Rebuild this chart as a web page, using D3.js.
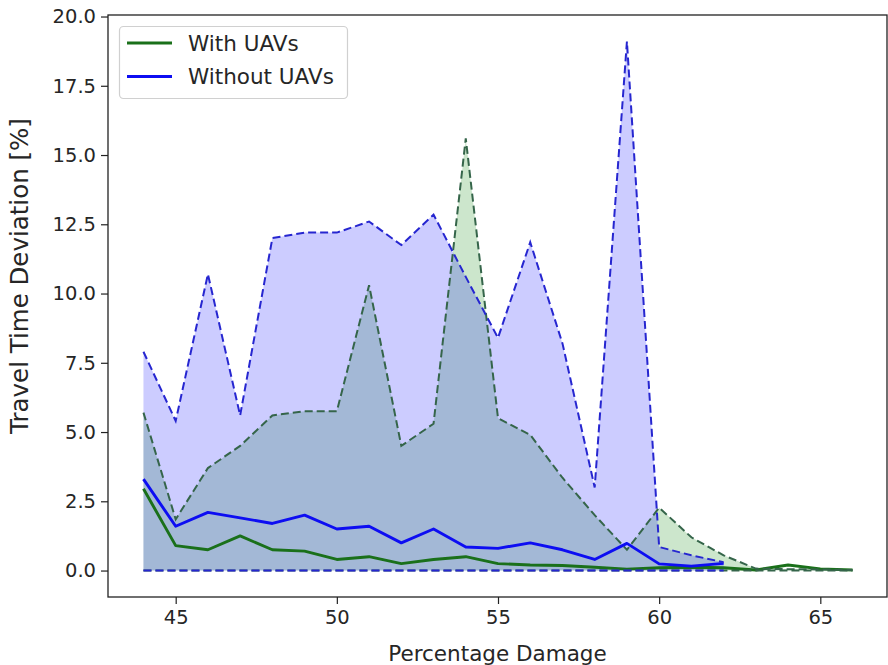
<!DOCTYPE html>
<html>
<head>
<meta charset="utf-8">
<script src="https://cdn.jsdelivr.net/npm/d3@7"></script>
<style>
  html, body { margin: 0; padding: 0; background: #fff; }
  svg { display: block; font-family: "DejaVu Sans", sans-serif; }
</style>
</head>
<body>
<svg id="chart" width="888" height="665"></svg>
<script>
// ---- data ----
const xWithout = [44,45,46,47,48,49,50,51,52,53,54,55,56,57,58,59,60,61,62];
const withoutMean  = [3.3,1.6,2.1,1.9,1.7,2.0,1.5,1.6,1.0,1.5,0.85,0.8,1.0,0.75,0.4,0.98,0.24,0.16,0.26];
const withoutUpper = [7.9,5.4,10.7,5.6,12.0,12.2,12.2,12.6,11.75,12.85,10.6,8.4,11.85,8.2,3.0,19.1,0.85,0.55,0.3];
const withoutLower = [0,0,0,0,0,0,0,0,0,0,0,0,0,0,0,0,0,0,0];

const xWith = [44,45,46,47,48,49,50,51,52,53,54,55,56,57,58,59,60,61,62,63,64,65,66];
const withMean  = [2.95,0.9,0.75,1.25,0.75,0.7,0.4,0.5,0.25,0.4,0.5,0.25,0.2,0.18,0.12,0.05,0.1,0.12,0.1,0.02,0.2,0.06,0.02];
const withUpper = [5.7,1.85,3.7,4.5,5.6,5.75,5.75,10.3,4.5,5.3,15.6,5.5,4.9,3.35,2.0,0.75,2.27,1.2,0.55,0.07,0.05,0.04,0.02];
const withLower = [0,0,0,0,0,0,0,0,0,0,0,0,0,0,0,0,0,0,0,0,0,0,0];

const xTicks = [45,50,55,60,65];
const yTicks = [0,2.5,5,7.5,10,12.5,15,17.5,20];
const seriesNames = ["With UAVs","Without UAVs"];
const xLabel = "Percentage Damage";
const yLabel = "Travel Time Deviation [%]";

// ---- layout ----
const svg = d3.select("#chart");
const L = 108, R = 887, T = 15, B = 597;
const x = d3.scaleLinear().domain([42.9, 67.1]).range([L, R + 1]);
const y = d3.scaleLinear().domain([-0.955, 20.055]).range([B, T]);

svg.append("clipPath").attr("id","clip")
  .append("rect").attr("x",L).attr("y",T).attr("width",R-L).attr("height",B-T);
const plot = svg.append("g").attr("clip-path","url(#clip)");
const fillLayer = plot.append("g");
const lineLayer = plot.append("g");

function drawSeries(xs, mean, up, lo, c) {
  const pts = xs.map((d,i)=>({x:d, m:mean[i], u:up[i], l:lo[i]}));
  fillLayer.append("path").datum(pts)
    .attr("d", d3.area().x(d=>x(d.x)).y0(d=>y(d.l)).y1(d=>y(d.u)))
    .attr("fill", c.fill).attr("fill-opacity", 0.2).attr("stroke","none");
  lineLayer.append("path").datum(pts)
    .attr("d", d3.line().x(d=>x(d.x)).y(d=>y(d.m)))
    .attr("fill","none").attr("stroke",c.solid).attr("stroke-width",2.9)
    .attr("stroke-linejoin","round");
  ["u","l"].forEach(k=>{
    lineLayer.append("path").datum(pts)
      .attr("d", d3.line().x(d=>x(d.x)).y(d=>y(d[k])))
      .attr("fill","none").attr("stroke",c.dash).attr("stroke-width",2)
      .attr("stroke-dasharray","8,4");
  });
}

drawSeries(xWith, withMean, withUpper, withLower, {fill:"#008000", solid:"#1a701a", dash:"#35654a"});
drawSeries(xWithout, withoutMean, withoutUpper, withoutLower, {fill:"#0000ff", solid:"#0d0df2", dash:"#2626d0"});

// ---- axes ----
const xAxis = d3.axisBottom(x).tickValues(xTicks).tickFormat(d3.format("d")).tickSize(7).tickPadding(6);
const yAxis = d3.axisLeft(y).tickValues(yTicks).tickFormat(d3.format(".1f")).tickSize(7).tickPadding(5);

const gx = svg.append("g").attr("transform",`translate(0,${B})`).call(xAxis);
const gy = svg.append("g").attr("transform",`translate(${L},0)`).call(yAxis);
[gx, gy].forEach(g=>{
  g.select(".domain").remove();
  g.selectAll(".tick line").attr("stroke","#222").attr("stroke-width",1.2);
  g.selectAll(".tick text").attr("fill","#262626").style("font-size","19.5px")
    .style("font-family","'DejaVu Sans', sans-serif");
});

// frame
svg.append("rect").attr("x",L).attr("y",T).attr("width",R-L).attr("height",B-T)
  .attr("fill","none").attr("stroke","#222").attr("stroke-width",1.3);

// labels
svg.append("text").attr("x",(L+R)/2).attr("y",661)
  .attr("text-anchor","middle").attr("fill","#262626").style("font-size","21.5px")
  .text(xLabel);
svg.append("text").attr("transform",`translate(28,276) rotate(-90)`)
  .attr("text-anchor","middle").attr("fill","#262626").style("font-size","24.5px")
  .text(yLabel);

// legend
const lg = svg.append("g");
lg.append("rect").attr("x",119.5).attr("y",26.5).attr("width",228).attr("height",72).attr("rx",4)
  .attr("fill","#fff").attr("fill-opacity",0.8).attr("stroke","#d0d0d0").attr("stroke-width",1.2);
const legCols = ["#1a701a","#0d0df2"];
seriesNames.forEach((n,i)=>{
  const yy = 43 + i*33.5;
  lg.append("line").attr("x1",127).attr("x2",172).attr("y1",yy).attr("y2",yy)
    .attr("stroke",legCols[i]).attr("stroke-width",2.9);
  lg.append("text").attr("x",188).attr("y",yy).attr("dy","0.35em")
    .attr("fill","#262626").style("font-size","21.5px").text(n);
});
</script>
</body>
</html>
